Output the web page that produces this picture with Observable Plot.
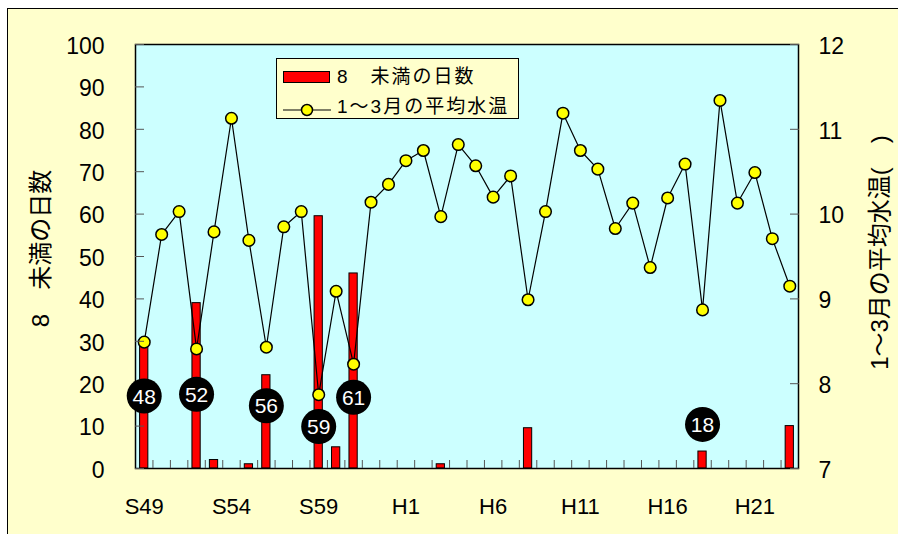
<!DOCTYPE html>
<html>
<head>
<meta charset="utf-8">
<script src="https://cdn.jsdelivr.net/npm/d3@7"></script>
<script src="https://cdn.jsdelivr.net/npm/@observablehq/plot@0.6"></script>
<style>
  body { margin: 0; background: #ffffff; }
  #wrap { position: relative; width: 898px; height: 534px; overflow: hidden; font-family: "Liberation Sans", Arial, "Noto Sans CJK JP", sans-serif; }
  #frame { position: absolute; left: 7px; top: 8px; width: 900px; height: 540px; background: #ffffcc; border-left: 1.5px solid #000; border-top: 1.5px solid #000; }
  #chart { position: absolute; left: 0; top: 0; }
  #legend { position: absolute; left: 276px; top: 58px; width: 243px; height: 61px; box-sizing: border-box; background: #ffffcc; border: 1px solid #000; }
  .sw-bar { position: absolute; left: 6px; top: 12px; width: 47px; height: 12px; box-sizing: border-box; background: #ff0000; border: 1px solid #000; }
  .sw-line { position: absolute; left: 6px; top: 44px; }
  .lg-text { position: absolute; left: 60px; font-size: 19px; line-height: 20px; letter-spacing: 2px; color: #000; white-space: pre; font-family: "Liberation Sans", Arial, "Noto Sans CJK JP", sans-serif; }
  g[aria-label="axis-title"] text { letter-spacing: 2.5px; }
</style>
</head>
<body>
<div id="wrap">
  <div id="frame"></div>
  <div id="chart"></div>
  <div id="legend">
    <div class="sw-bar"></div>
    <div class="lg-text" style="top:8px">8　未満の日数</div>
    <svg class="sw-line" width="48" height="14"><line x1="0" y1="7" x2="48" y2="7" stroke="#000" stroke-width="1.2"/><circle cx="24" cy="7" r="5.5" fill="#ffff00" stroke="#000" stroke-width="1.5"/></svg>
    <div class="lg-text" style="top:38px">1～3月の平均水温</div>
  </div>
</div>
<script>
// ---- data ----
const years = [1974, 1975, 1976, 1977, 1978, 1979, 1980, 1981, 1982, 1983,
               1984, 1985, 1986, 1987, 1988, 1989, 1990, 1991, 1992, 1993,
               1994, 1995, 1996, 1997, 1998, 1999, 2000, 2001, 2002, 2003,
               2004, 2005, 2006, 2007, 2008, 2009, 2010, 2011];
// days below 8 deg C (left axis)
const days = [30, 0, 0, 39, 2, 0, 1, 22, 0, 0,
              59.5, 5, 46, 0, 0, 0, 0, 1, 0, 0,
              0, 0, 9.5, 0, 0, 0, 0, 0, 0, 0,
              0, 0, 4, 0, 0, 0, 0, 10];
// mean water temperature Jan-Mar (right axis)
const temps = [8.49, 9.76, 10.03, 8.41, 9.79, 11.13, 9.69, 8.43, 9.85, 10.03,
               7.87, 9.09, 8.23, 10.14, 10.35, 10.63, 10.75, 9.97, 10.82, 10.57,
               10.20, 10.45, 8.99, 10.03, 11.19, 10.75, 10.53, 9.83, 10.13, 9.37,
               10.19, 10.59, 8.87, 11.34, 10.13, 10.49, 9.71, 9.15];
// x tick labels
const xTickYears = [1974, 1979, 1984, 1989, 1994, 1999, 2004, 2009];
const xTickLabels = ["S49", "S54", "S59", "H1", "H6", "H11", "H16", "H21"];
// left and right axis ticks
const leftTicks = [0, 10, 20, 30, 40, 50, 60, 70, 80, 90, 100];
const rightTicks = [7, 8, 9, 10, 11, 12];
// annotation badges
const annYears = [1974, 1977, 1981, 1984, 1986, 2006];
const annLabels = ["48", "52", "56", "59", "61", "18"];
const annDays = [17.1, 17.5, 14.8, 9.9, 16.8, 10.4];

const leftTitle = "8　未満の日数";
const rightTitle = "1～3月の平均水温(　)";

// ---- derived tables ----
const tMin = 7, tMax = 12, dMax = 100;
const toLeft = t => (t - tMin) / (tMax - tMin) * dMax;
const rows = years.map((y, i) => ({year: y, days: days[i], temp: temps[i]}));
const bars = rows.filter(d => d.days > 0);
const ann = annYears.map((y, i) => ({year: y, label: annLabels[i], v: annDays[i]}));
const boundaries = years.slice(0, -1).map(y => y + 0.5);

const font = "'Liberation Sans', Arial, 'Noto Sans CJK JP', sans-serif";

const chart = Plot.plot({
  width: 898,
  height: 534,
  marginLeft: 135,
  marginRight: 100,
  marginTop: 44,
  marginBottom: 66,
  style: {background: "transparent", fontFamily: font, color: "#000", overflow: "visible"},
  x: {type: "linear", domain: [years[0] - 0.5, years[years.length - 1] + 0.5]},
  y: {domain: [0, dMax]},
  marks: [
    Plot.frame({fill: "#ccffff", stroke: null}),
    Plot.rectY(bars, {x1: d => d.year - 0.5, x2: d => d.year + 0.5, y: "days",
      insetLeft: 4.6, insetRight: 4.6, fill: "#ff0000", stroke: "#000", strokeWidth: 1}),
    Plot.line(rows, {x: "year", y: d => toLeft(d.temp), stroke: "#000", strokeWidth: 1.2}),
    Plot.dot(rows, {x: "year", y: d => toLeft(d.temp), r: 5.8, fill: "#ffff00", stroke: "#000", strokeWidth: 1.5}),
    Plot.frame({stroke: "#000", strokeWidth: 1.5}),
    // bottom ticks (inward, at year boundaries)
    Plot.axisX({ticks: boundaries, tickSize: -8, fill: "none", label: null, stroke: "#555"}),
    // bottom labels
    Plot.axisX({ticks: xTickYears, tickSize: 0, tickPadding: 30, fontSize: 22, label: null,
      tickFormat: d => xTickLabels[xTickYears.indexOf(d)]}),
    // left axis
    Plot.axisY({ticks: leftTicks, tickSize: -9, fill: "none", label: null, stroke: "#555"}),
    Plot.axisY({ticks: leftTicks, tickSize: 0, tickPadding: 31, fontSize: 23, dy: 2, label: null}),
    // right axis (temperature mapped onto the left scale)
    Plot.axisY({anchor: "right", ticks: rightTicks.map(toLeft), tickSize: -9, fill: "none", label: null, stroke: "#555"}),
    Plot.axisY({anchor: "right", ticks: rightTicks.map(toLeft), tickSize: 0, tickPadding: 20, fontSize: 23, dy: 2, label: null,
      tickFormat: d => String(rightTicks[rightTicks.map(toLeft).indexOf(d)])}),
    // annotation badges (on top of the axis line)
    Plot.dot(ann, {x: "year", y: "v", r: 17.5, fill: "#000", stroke: null}),
    Plot.text(ann, {x: "year", y: "v", text: "label", fill: "#fff", fontSize: 21, dy: 1}),
    // axis titles
    Plot.text([leftTitle], {frameAnchor: "left", textAnchor: "middle", text: d => d, rotate: -90, dx: -94, dy: -8, fontSize: 24, ariaLabel: "axis-title"}),
    Plot.text([rightTitle], {frameAnchor: "right", textAnchor: "middle", text: d => d, rotate: -90, dx: 82, dy: -4, fontSize: 24, ariaLabel: "axis-title"})
  ]
});
document.getElementById("chart").appendChild(chart);
</script>
</body>
</html>
